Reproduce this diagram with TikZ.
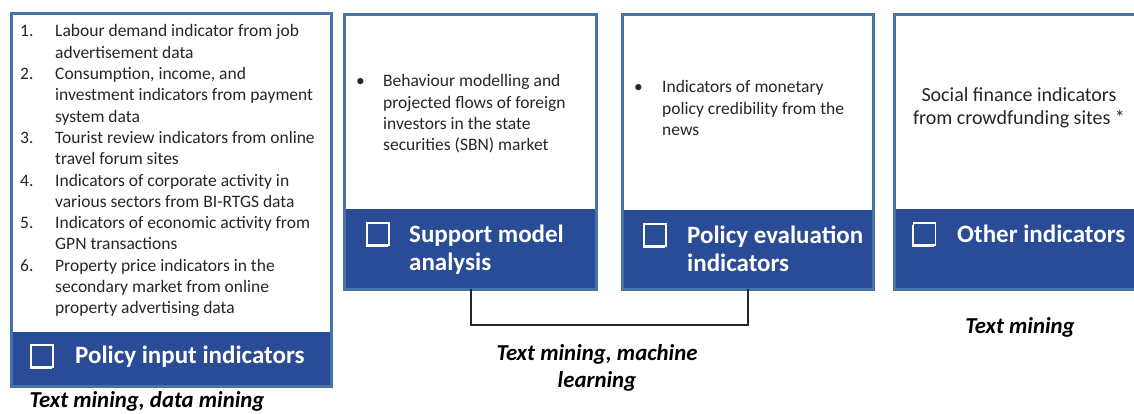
\documentclass[tikz,border=0pt]{standalone}
\usepackage{fontspec}
\setmainfont{Carlito}
\usepackage{tikz}
\usetikzlibrary{positioning}
\usetikzlibrary{shadows}
\definecolor{edgeblue}{RGB}{70,116,166}
\definecolor{bandblue}{RGB}{42,75,150}
\definecolor{txtgray}{RGB}{38,38,38}
\tikzset{panel/.style={draw=edgeblue, line width=3pt, fill=white, inner sep=0pt, outer sep=0pt}}
\tikzset{band/.style={fill=bandblue, inner sep=0pt, outer sep=0pt}}
\tikzset{chk/.style={draw=white, line width=1.6pt, fill=bandblue, minimum size=22pt, inner sep=0pt,
  drop shadow={shadow xshift=-1.5pt, shadow yshift=-2pt, fill=white, opacity=1}}}
\tikzset{title/.style={text=white, font=\fontsize{25}{28}\selectfont\bfseries, anchor=base west, inner sep=0pt}}
\tikzset{body/.style={text=txtgray, font=\fontsize{17.5}{21.3}\selectfont, anchor=base west, inner sep=0pt}}
\tikzset{method/.style={text=black, font=\fontsize{22.8}{27}\selectfont\bfseries\itshape, anchor=base, inner sep=0pt}}

\begin{document}
\begin{tikzpicture}[x=1pt,y=-1pt]
\useasboundingbox[fill=white] (0,0) rectangle (1134,414);
\node[panel, minimum width=320pt, minimum height=372pt] (inp) at (171,200) {};
\node[panel, minimum width=252pt, minimum height=274pt] (sup) at (470.5,152) {};
\node[panel, minimum width=251pt, minimum height=274pt] (eva) at (747.5,152) {};
\node[panel, minimum width=251pt, minimum height=274pt] (oth) at (1019.5,152) {};
\node[band, minimum width=317pt, minimum height=53pt, anchor=south] (inpband) at ([yshift=1.5pt]inp.south) {};
\node[band, minimum width=249pt, minimum height=79pt, anchor=south] (supband) at ([yshift=1.5pt]sup.south) {};
\node[band, minimum width=248pt, minimum height=78pt, anchor=south] (evaband) at ([yshift=1.5pt]eva.south) {};
\node[band, minimum width=248pt, minimum height=79pt, anchor=south] (othband) at ([yshift=1.5pt]oth.south) {};
%\draw[help lines] (0,0) grid[step=50] (1134,414);
\node[chk] (inpchk) at (42,356) {};
\node[chk] (supchk) at (378,234) {};
\node[chk] (evachk) at (655,235) {};
\node[chk] (othchk) at (924.5,234) {};
\node[title] (inptitle) at (75,363) {Policy input indicators};
\node[title] (suptitle) at (409,242) {\begin{tabular}[t]{@{}l@{}}Support model\\analysis\end{tabular}};
\node[title] (evatitle) at (687,243) {\begin{tabular}[t]{@{}l@{}}Policy evaluation\\indicators\end{tabular}};
\node[title] (othtitle) at (957,242) {Other indicators};
\node[body] (inptext) at (20,37) {\begin{tabular}[t]{@{}p{35pt}@{}l@{}}
1. & Labour demand indicator from job\\
   & advertisement data\\
2. & Consumption, income, and\\
   & investment indicators from payment\\
   & system data\\
3. & Tourist review indicators from online\\
   & travel forum sites\\
4. & Indicators of corporate activity in\\
   & various sectors from BI-RTGS data\\
5. & Indicators of economic activity from\\
   & GPN transactions\\
6. & Property price indicators in the\\
   & secondary market from online\\
   & property advertising data
\end{tabular}};
\node[body] (suptext) at (356,87) {\begin{tabular}[t]{@{}p{27pt}@{}l@{}}
\textbullet & Behaviour modelling and\\
   & projected flows of foreign\\
   & investors in the state\\
   & securities (SBN) market
\end{tabular}};
\node[body] (evatext) at (634,93) {\begin{tabular}[t]{@{}p{28pt}@{}l@{}}
\textbullet & Indicators of monetary\\
   & policy credibility from the\\
   & news
\end{tabular}};
\node[body, anchor=base, font=\fontsize{20}{23}\selectfont] (othtext) at (1019,102) {\begin{tabular}[t]{@{}c@{}}
Social finance indicators\\
from crowdfunding sites *
\end{tabular}};
\draw[line width=2pt, draw=black!85] (sup.south) -- ++(0,36) -| (eva.south);
\node[method] (inpmeth) at (147,407.5) {Text mining, data mining};
\node[method] (supmeth) at (597,360) {\begin{tabular}[t]{@{}c@{}}Text mining, machine\\learning\end{tabular}};
\node[method] (othmeth) at (1020,333) {Text mining};
\end{tikzpicture}
\end{document}
